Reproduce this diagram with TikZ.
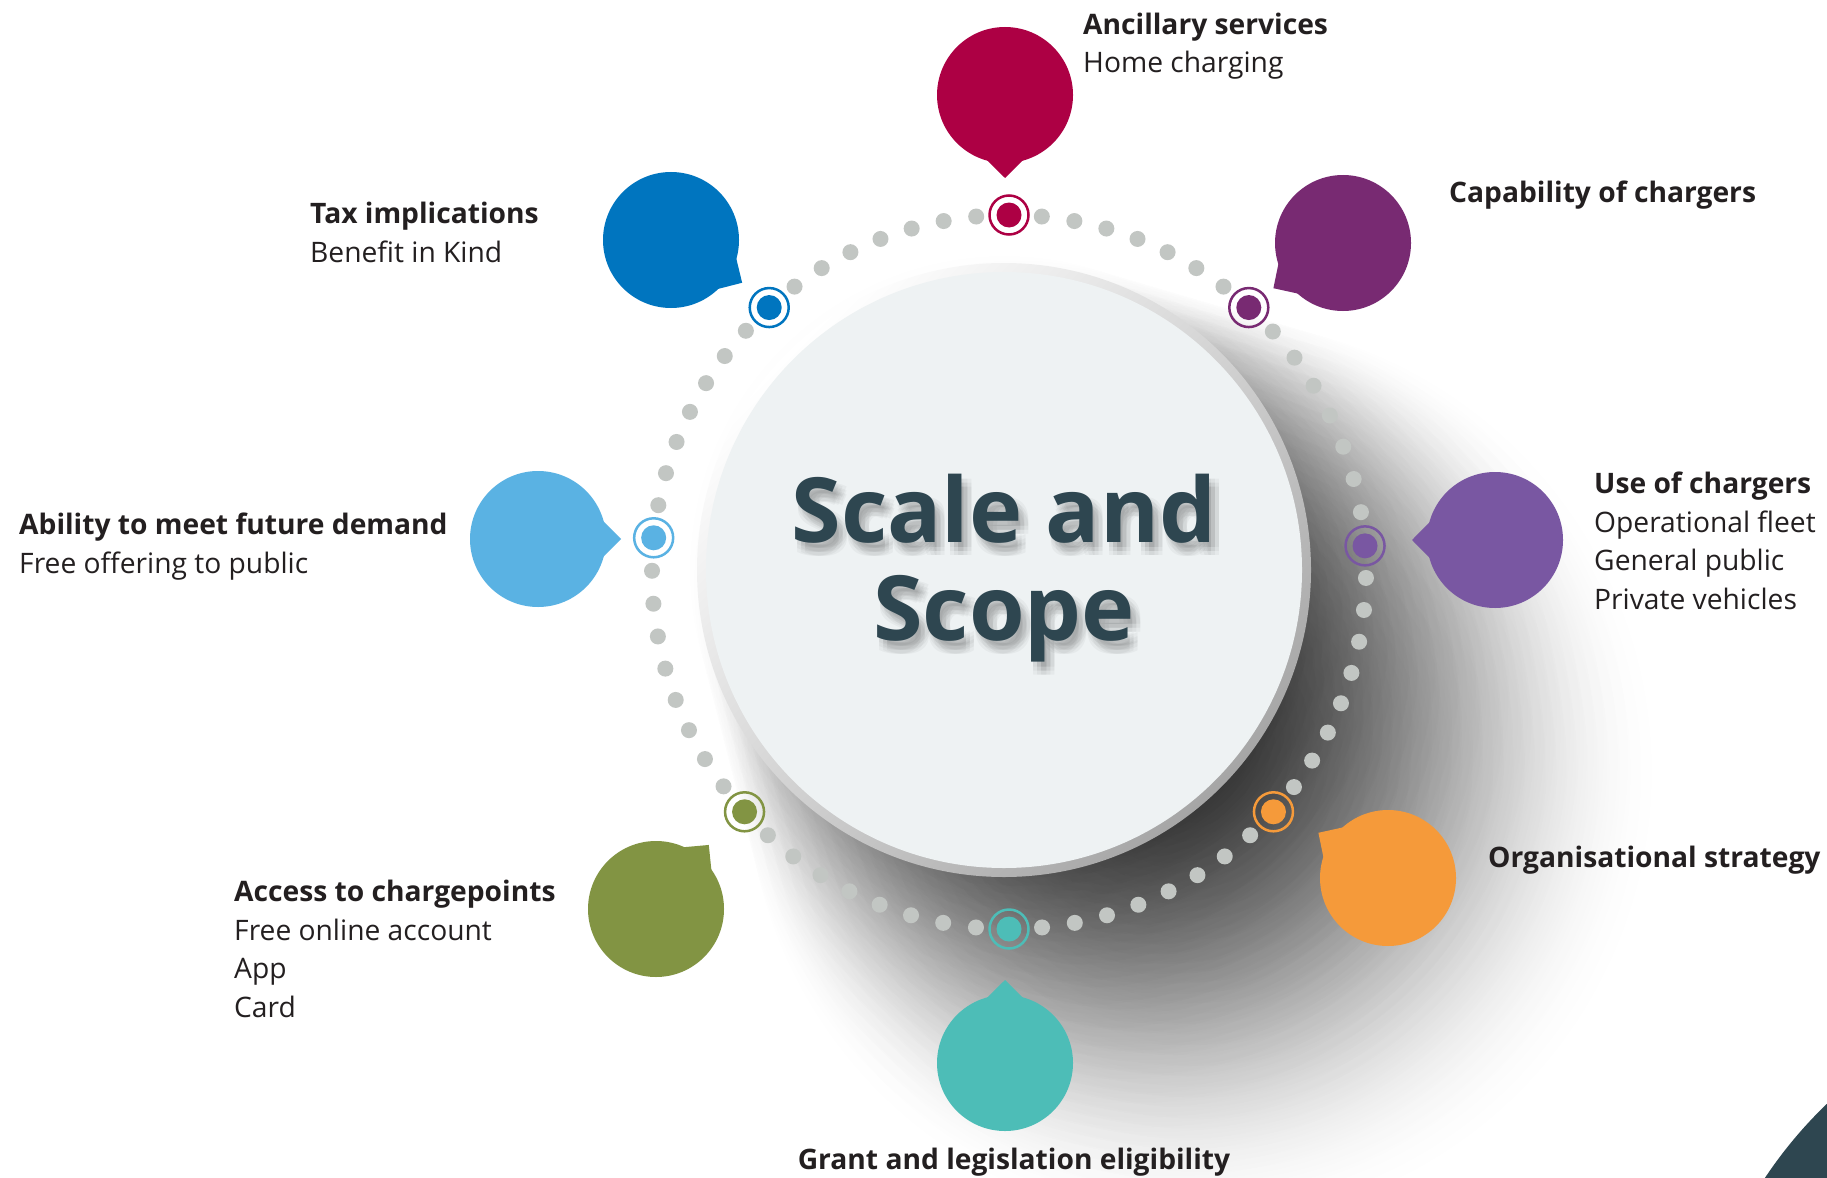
\documentclass[tikz,border=0pt]{standalone}
\usepackage{fontspec}
\setmainfont{Open Sans}
\usetikzlibrary{calc}

\definecolor{ancred}{HTML}{AD0044}
\definecolor{taxblue}{HTML}{0075BF}
\definecolor{cappurple}{HTML}{782A72}
\definecolor{usepurple}{HTML}{7957A2}
\definecolor{abilblue}{HTML}{5AB2E3}
\definecolor{accgreen}{HTML}{829443}
\definecolor{grantteal}{HTML}{4DBDB7}
\definecolor{orgorange}{HTML}{F59A3A}
\definecolor{dotgray}{HTML}{C2C6C3}
\definecolor{slate}{HTML}{2E4650}
\definecolor{inktext}{HTML}{231F20}
\definecolor{diskfill}{HTML}{EEF2F3}

\begin{document}
\begin{tikzpicture}[
        x=1pt, y=-1pt,
        bubble/.style={circle, fill=#1, minimum size=136pt, inner sep=0pt},
        ringmark/.style={circle, draw=#1, line width=2.5pt, minimum size=39pt, inner sep=0pt},
        markdot/.style={circle, fill=#1, minimum size=25pt, inner sep=0pt},
        itemtext/.style={anchor=base west, align=left, text=inktext, inner sep=0pt,
            font=\fontsize{28.2}{38.5}\selectfont},
        hubtext/.style={align=center, inner sep=0pt,
            font=\fontsize{90}{98}\selectfont\bfseries}
    ]
    \clip (0,0) rectangle (1827,1177);
    \fill[white] (0,0) rectangle (1827,1177);

    \coordinate (disk) at (1004,570);
    \coordinate (ring) at (1009,572);

    % soft shadow cast to the lower right of the disk
    \foreach \i in {0,...,14}
        \shade[inner color=black!17, outer color=white, blend mode=multiply]
            ($(disk)+(46:{20*\i})$) circle ({318+10*\i});

    % dark corner piece
    \fill[slate] (2130,1420) circle (438);

    % dotted ring, split between the markers
    \foreach \a/\b/\k in {42.2/90/9, 90/137.8/9, 137.8/185.5/9, 185.5/227.8/8,
                          227.8/270/8, 270/312.2/8, 312.2/355.8/8, 355.8/402.2/9} {
        \pgfmathtruncatemacro\last{\k-1}
        \foreach \j in {1,...,\last}
            \fill[dotgray] ($(ring)+({\a+(\b-\a)*\j/\k}:357)$) circle (8);
    }

    % markers on the ring
    \foreach \n/\c/\a in {anc/ancred/270, tax/taxblue/227.8, cap/cappurple/312.2,
                          use/usepurple/355.8, abil/abilblue/185.5, acc/accgreen/137.8,
                          grant/grantteal/90, org/orgorange/42.2} {
        \node[ringmark=\c] (m\n) at ($(ring)+(\a:357)$) {};
        \node[markdot=\c] (d\n) at (m\n) {};
    }

    % central disk
    \shade[top color=white, bottom color=black!35, shading angle=45] (disk) circle (307);
    \fill[diskfill] (disk) circle (298);

    % title with a soft shadow
    \foreach \dx/\dy in {2/5, 6/5, 10/5, 2/9, 6/9, 10/9, 2/13, 6/13, 10/13}
        \node[hubtext, text=black, opacity=0.035, anchor=base] at ($(1004,640)+(\dx,\dy)$) {Scale and\\Scope};
    \node[hubtext, text=slate, anchor=base] (hub) at (1004,640) {Scale and\\Scope};

    % bubbles with their tails
    \foreach \n/\c/\x/\y/\a in {anc/ancred/1005/95/90, tax/taxblue/671/240/31,
                                cap/cappurple/1343/243/147, use/usepurple/1495/540/180,
                                abil/abilblue/538/539/0, acc/accgreen/656/909/309.5,
                                grant/grantteal/1005/1063/270, org/orgorange/1388/878/213} {
        \node[bubble=\c] (b\n) at (\x,\y) {};
        \fill[\c] ($(b\n)+(\a:83)$) -- ($(b\n)+(\a+22:64)$) -- ($(b\n)+(\a-22:64)$) -- cycle;
    }

    % labels (base = last line)
    \node[itemtext] (anc) at (1083,73) {\textbf{Ancillary services}\\Home charging};
    \node[itemtext] (tax) at (310,262) {\textbf{Tax implications}\\Benefit in Kind};
    \node[itemtext] (cap) at (1449,203) {\textbf{Capability of chargers}};
    \node[itemtext] (use) at (1594,609) {\textbf{Use of chargers}\\Operational fleet\\General public\\Private vehicles};
    \node[itemtext] (abil) at (19,573) {\textbf{Ability to meet future demand}\\Free offering to public};
    \node[itemtext] (acc) at (234,1017) {\textbf{Access to chargepoints}\\Free online account\\App\\Card};
    \node[itemtext] (org) at (1488,867) {\textbf{Organisational strategy}};
    \node[itemtext, anchor=base] (grant) at (1014,1169) {\textbf{Grant and legislation eligibility}};

\end{tikzpicture}
\end{document}
